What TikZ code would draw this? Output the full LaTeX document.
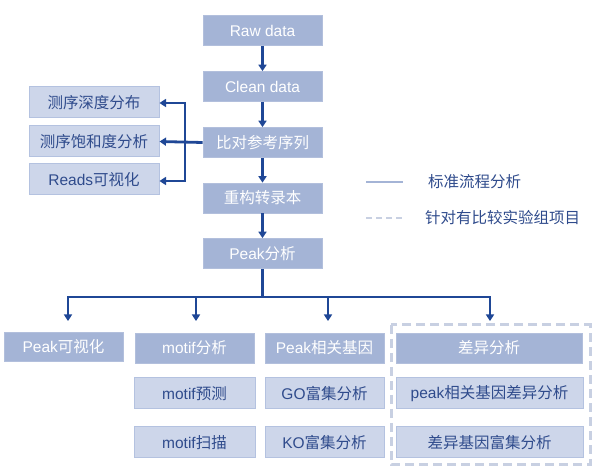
\documentclass[tikz,border=0pt]{standalone}
\usepackage{fontspec}
\setmainfont{Liberation Sans}
\newfontfamily\cjk{Noto Sans CJK SC}
\usetikzlibrary{arrows.meta}
\definecolor{mainfill}{RGB}{164,180,214}
\definecolor{lightfill}{RGB}{205,214,234}
\definecolor{lightborder}{RGB}{180,194,224}
\definecolor{txtblue}{RGB}{47,75,140}
\definecolor{arrblue}{RGB}{31,71,150}
\definecolor{dashcol}{RGB}{200,208,226}
\begin{document}
\begin{tikzpicture}[x=1pt,y=-1pt,
  every node/.style={font=\fontsize{15.5}{18}\selectfont, inner sep=0pt},
  mainbox/.style={fill=mainfill, draw=mainfill!85!white, line width=0.6pt, text=white, minimum width=119pt, minimum height=30pt},
  lightbox/.style={fill=lightfill, draw=lightborder, line width=1pt, text=txtblue, minimum height=31pt},
  conn/.style={draw=arrblue, line width=2.8pt},
  arr/.style={conn, -{Triangle[length=6.5pt,width=8pt]}},
  legtxt/.style={text=txtblue, anchor=west}
]
\useasboundingbox (0,0) rectangle (598,473);
\fill[white] (0,0) rectangle (598,473);

% main column
\node[mainbox] (raw) at (262.5,30.5) {Raw data};
\node[mainbox] (clean) at (262.5,86.5) {Clean data};
\node[mainbox] (align) at (262.5,142.5) {\cjk 比对参考序列};
\node[mainbox] (recon) at (262.5,198) {\cjk 重构转录本};
\node[mainbox] (peak) at (262.5,253.5) {Peak{\cjk 分析}};

% left boxes
\node[lightbox, minimum width=130pt] (depth) at (94,102.5) {\cjk 测序深度分布};
\node[lightbox, minimum width=130pt] (sat) at (94,141.5) {\cjk 测序饱和度分析};
\node[lightbox, minimum width=130pt] (reads) at (94,179.5) {Reads{\cjk 可视化}};

% bottom boxes
\node[mainbox, minimum height=29pt] (pvis) at (63.5,346.5) {Peak{\cjk 可视化}};
\node[mainbox] (motif) at (194.5,348) {motif{\cjk 分析}};
\node[lightbox, minimum width=121pt] (mpred) at (194.5,393.5) {motif{\cjk 预测}};
\node[lightbox, minimum width=121pt] (mscan) at (194.5,442.5) {motif{\cjk 扫描}};
\node[mainbox] (pgene) at (324.5,348) {Peak{\cjk 相关基因}};
\node[lightbox, minimum width=119pt] (go) at (324.5,393.5) {GO{\cjk 富集分析}};
\node[lightbox, minimum width=119pt] (ko) at (324.5,442.5) {KO{\cjk 富集分析}};
\node[mainbox, minimum width=186pt] (diff) at (489,348) {\cjk 差异分析};
\node[lightbox, minimum width=187pt] (pdiff) at (489.5,393.5) {peak{\cjk 相关基因差异分析}};
\node[lightbox, minimum width=187pt] (denr) at (489.5,442.5) {\cjk 差异基因富集分析};

% dashed group
\draw[dashcol, line width=3pt, dash pattern=on 9pt off 5pt] (391,325) rectangle (590,465);

% main arrows
\draw[arr] (raw) -- (clean);
\draw[arr] (clean) -- (align);
\draw[arr] (align) -- (recon);
\draw[arr] (recon) -- (peak);

% left branch
\coordinate (lj) at (185,142.5);
\coordinate (ltop) at (185,103);
\coordinate (lbot) at (185,181);
\draw[arr] (align.west) -- (sat.east);
\draw[arr] (lj) -- (ltop) -- (depth.east |- ltop);
\draw[arr] (lj) -- (lbot) -- (reads.east |- lbot);

% bottom bus
\coordinate (bus) at (262.5,297);
\coordinate (b1) at (68,297);
\coordinate (b2) at (196,297);
\coordinate (b3) at (328,297);
\coordinate (b4) at (490,297);
\coordinate (t1) at (68,321);
\coordinate (t2) at (196,321);
\coordinate (t3) at (328,321);
\coordinate (t4) at (490,321);
\draw[conn] (peak.south) -- (bus);
\draw[arr] (bus) -- (b1) -- (t1);
\draw[arr] (bus) -- (b4) -- (t4);
\draw[arr] (b2) -- (t2);
\draw[arr] (b3) -- (t3);

% legend
\coordinate (l1a) at (366,182);
\coordinate (l1b) at (403,182);
\coordinate (l2a) at (366,218);
\coordinate (l2b) at (403,218);
\draw[mainfill, line width=2.4pt] (l1a) -- (l1b);
\draw[dashcol, line width=2.4pt, dash pattern=on 6pt off 4pt] (l2a) -- (l2b);
\node[legtxt] (leg1) at (428,182) {\cjk 标准流程分析};
\node[legtxt] (leg2) at (425,218) {\cjk 针对有比较实验组项目};
\end{tikzpicture}
\end{document}
